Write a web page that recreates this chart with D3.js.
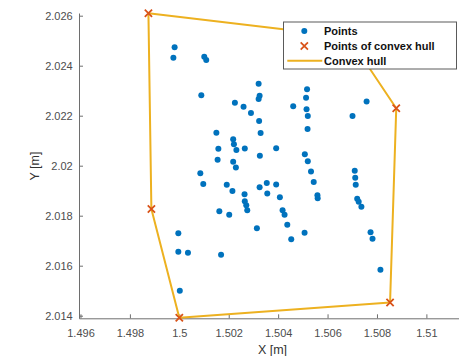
<!DOCTYPE html>
<html><head><meta charset="utf-8">
<script src="https://cdn.jsdelivr.net/npm/d3@7/dist/d3.min.js"></script>
<style>
html,body{margin:0;padding:0;background:#fff;}
svg{display:block;font-family:"Liberation Sans",Arial,sans-serif;}
</style></head>
<body><svg id="chart" width="459" height="356"></svg>
<script>
// Data points
const pointsX = [1.49981,1.49976,1.50101,1.50109,1.50089,1.50321,1.50325,1.50321,1.50225,1.50260,1.50290,1.50323,1.50150,1.50329,1.50517,1.50513,1.50461,1.50515,1.50520,1.50519,1.50758,1.50701,1.50218,1.50221,1.50231,1.50158,1.50265,1.50392,1.50155,1.50218,1.50229,1.50326,1.50508,1.50520,1.50533,1.50544,1.50559,1.50560,1.50710,1.50712,1.50714,1.50720,1.50726,1.50737,1.50085,1.50097,1.50192,1.50215,1.50264,1.50265,1.50271,1.50275,1.50162,1.50202,1.50325,1.50354,1.50392,1.50356,1.50407,1.50418,1.50426,1.50437,1.50314,1.50453,1.50507,1.50774,1.50782,1.50814,1.49996,1.49996,1.50035,1.50169,1.50002];
const pointsY = [2.02474,2.02432,2.02436,2.02423,2.02282,2.02328,2.02280,2.02267,2.02252,2.02236,2.02211,2.02179,2.02132,2.02131,2.02306,2.02272,2.02238,2.02226,2.02199,2.02147,2.02257,2.02199,2.02106,2.02086,2.02063,2.02068,2.02069,2.02070,2.02024,2.02016,2.01993,2.02040,2.02046,2.02018,2.01977,2.01935,2.01882,2.01870,2.01980,2.01952,2.01924,2.01868,2.01856,2.01836,2.01970,2.01927,2.01924,2.01899,2.01886,2.01858,2.01842,2.01822,2.01818,2.01804,2.01914,2.01931,2.01925,2.01889,2.01874,2.01822,2.01804,2.01764,2.01750,2.01706,2.01732,2.01734,2.01708,2.01584,2.01730,2.01656,2.01652,2.01644,2.01500];
// Convex hull vertices (in drawing order)
const hullX = [1.49875,1.50685,1.50878,1.50853,1.50000,1.49887];
const hullY = [2.02610,2.02515,2.02230,2.01453,2.01392,2.01827];
// Ticks
const xTicks = [1.496,1.498,1.5,1.502,1.504,1.506,1.508,1.51];
const xTickLabels = ["1.496","1.498","1.5","1.502","1.504","1.506","1.508","1.51"];
const yTicks = [2.014,2.016,2.018,2.02,2.022,2.024,2.026];
const yTickLabels = ["2.014","2.016","2.018","2.02","2.022","2.024","2.026"];
const legendLabels = ["Points","Points of convex hull","Convex hull"];
const xLabel = "X [m]", yLabel = "Y [m]";

const svg = d3.select("#chart");
const x = d3.scaleLinear().domain([1.49594,1.51132]).range([79,459]);
const y = d3.scaleLinear().domain([2.013896,2.026108]).range([318.3,13]);

const axisColor = "#6e6e6e", textColor = "#4d4d4d";

const gx = svg.append("g").attr("transform","translate(0,318.3)")
  .call(d3.axisBottom(x).tickValues(xTicks).tickFormat((d,i)=>xTickLabels[i])
    .tickSizeInner(-4).tickSizeOuter(0).tickPadding(10.5));
const gy = svg.append("g").attr("transform","translate(79,0)")
  .call(d3.axisLeft(y).tickValues(yTicks).tickFormat((d,i)=>yTickLabels[i])
    .tickSizeInner(-4).tickSizeOuter(0).tickPadding(6.3));
[gx,gy].forEach(g=>{
  g.select(".domain").attr("stroke",axisColor);
  g.selectAll(".tick line").attr("stroke",axisColor);
  g.selectAll(".tick text").attr("fill",textColor).style("font-size","11px")
    .style("font-family","'Liberation Sans',Arial,sans-serif");
});

svg.append("text").attr("x",272.5).attr("y",354).attr("text-anchor","middle")
  .attr("fill","#333").style("font-size","12.5px").text(xLabel);
svg.append("text").attr("transform","translate(39,166) rotate(-90)").attr("text-anchor","middle")
  .attr("fill","#333").style("font-size","12.5px").text(yLabel);

const blue = "#0072BD", orange = "#D95319", yellow = "#EDB120";

// points
svg.append("g").selectAll("circle").data(pointsX.map((v,i)=>[v,pointsY[i]])).join("circle")
  .attr("cx",d=>x(d[0])).attr("cy",d=>y(d[1])).attr("r",3).attr("fill",blue);

// hull line (closed)
const hull = hullX.map((v,i)=>[v,hullY[i]]);
svg.append("path").datum(hull.concat([hull[0]]))
  .attr("d",d3.line().x(d=>x(d[0])).y(d=>y(d[1])))
  .attr("fill","none").attr("stroke",yellow).attr("stroke-width",2).attr("stroke-linejoin","round");

// hull markers
const xSym = d3.symbol(d3.symbolX,36);
svg.append("g").selectAll("path").data(hull).join("path")
  .attr("transform",d=>`translate(${x(d[0])},${y(d[1])})`)
  .attr("d",xSym).attr("fill","none").attr("stroke",orange).attr("stroke-width",1.8);

// legend
const lg = svg.append("g");
lg.append("rect").attr("x",283.5).attr("y",22).attr("width",173).attr("height",47)
  .attr("fill","#fff").attr("stroke","#5a5a5a").attr("stroke-width",1);
lg.append("circle").attr("cx",304.3).attr("cy",31).attr("r",3).attr("fill",blue);
lg.append("path").attr("transform","translate(304.3,46)").attr("d",xSym)
  .attr("fill","none").attr("stroke",orange).attr("stroke-width",1.8);
lg.append("line").attr("x1",287.3).attr("x2",322.3).attr("y1",60.7).attr("y2",60.7)
  .attr("stroke",yellow).attr("stroke-width",2);
lg.selectAll("text.lt").data(legendLabels).join("text").attr("class","lt")
  .attr("x",324).attr("y",(d,i)=>31+i*15).attr("dy","0.35em")
  .attr("fill","#111").style("font-size","11px").style("font-weight","bold").text(d=>d);
</script></body></html>
